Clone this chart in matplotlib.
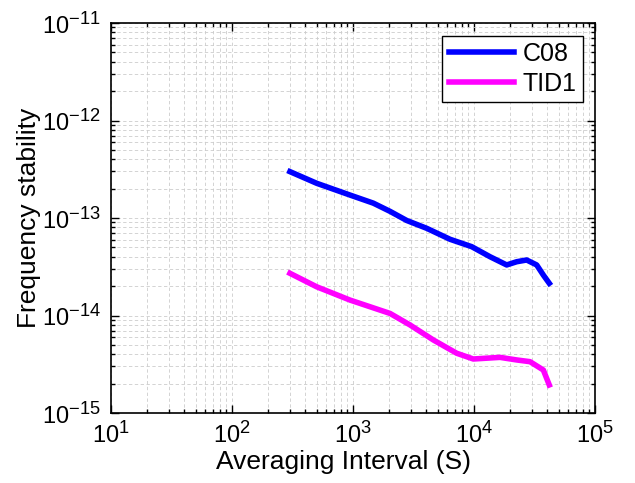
import matplotlib
matplotlib.use("Agg")
import matplotlib.pyplot as plt
from matplotlib.ticker import LogLocator, NullFormatter
try:
    import matplotlib._mathtext as _mt
    _mt.SHRINK_FACTOR = 0.78
except Exception:
    pass

plt.rcParams['font.family'] = ['Liberation Sans', 'DejaVu Sans']
plt.rcParams['mathtext.fontset'] = 'custom'
plt.rcParams['mathtext.rm'] = 'Liberation Sans'
plt.rcParams['mathtext.it'] = 'Liberation Sans'
plt.rcParams['mathtext.bf'] = 'Liberation Sans'

tau_c08 = [301, 501, 944, 1472, 2023, 2780, 4064, 6339, 9575, 13550, 18620, 22540, 27230, 32960, 37410, 41880]
adev_c08 = [2.99e-13, 2.27e-13, 1.72e-13, 1.42e-13, 1.17e-13, 9.43e-14, 7.84e-14, 6.05e-14, 5.08e-14,
            4.01e-14, 3.30e-14, 3.56e-14, 3.71e-14, 3.30e-14, 2.60e-14, 2.14e-14]
tau_tid = [301, 501, 944, 2023, 2958, 4613, 7197, 9863, 16410, 22540, 29040, 37410, 41880]
adev_tid = [2.71e-14, 1.97e-14, 1.44e-14, 1.05e-14, 8.0e-15, 5.61e-15, 4.10e-15, 3.58e-15, 3.72e-15,
            3.50e-15, 3.36e-15, 2.76e-15, 1.94e-15]

fig = plt.figure(figsize=(6.35, 4.83), dpi=100)
ax = fig.add_axes([111/635, 70/483, 484/635, 390/483])
ax.plot(tau_c08, adev_c08, color='#0000ff', lw=4, label='C08')
ax.plot(tau_tid, adev_tid, color='#ff00ff', lw=4, label='TID1')
ax.set_xscale('log')
ax.set_yscale('log')
ax.set_xlim(10, 1e5)
ax.set_ylim(1e-15, 1e-11)
ax.xaxis.set_major_locator(LogLocator(base=10, numticks=10))
ax.yaxis.set_major_locator(LogLocator(base=10, numticks=10))
ax.xaxis.set_minor_locator(LogLocator(base=10, subs=range(2, 10), numticks=20))
ax.yaxis.set_minor_locator(LogLocator(base=10, subs=range(2, 10), numticks=20))
ax.xaxis.set_minor_formatter(NullFormatter())
ax.yaxis.set_minor_formatter(NullFormatter())
ax.grid(True, which='both', ls=(0, (4, 3)), color='#cccccc', lw=0.6)
ax.tick_params(which='both', direction='in', top=True, right=True, labelsize=17)
ax.tick_params(axis='x', which='major', pad=6)
ax.tick_params(axis='y', which='major', pad=7)
ax.tick_params(which='major', length=6, width=1.0)
ax.tick_params(which='minor', length=3, width=1.0)
for s in ax.spines.values():
    s.set_linewidth(1.2)
ax.set_xlabel('Averaging Interval (S)', fontsize=19, labelpad=1)
ax.xaxis.set_label_coords(0.481, -0.095, transform=ax.transAxes)
ax.xaxis.label.set_va('top')
ax.set_ylabel('Frequency stability', fontsize=19, labelpad=1)
leg = ax.legend(loc='upper right', fontsize=18, fancybox=False, edgecolor='black',
                framealpha=1, handlelength=2.6, handletextpad=0.35, borderpad=0.25,
                labelspacing=0.25, borderaxespad=0.5)
leg.get_frame().set_linewidth(1.0)
fig.savefig('out.png', dpi=100)
